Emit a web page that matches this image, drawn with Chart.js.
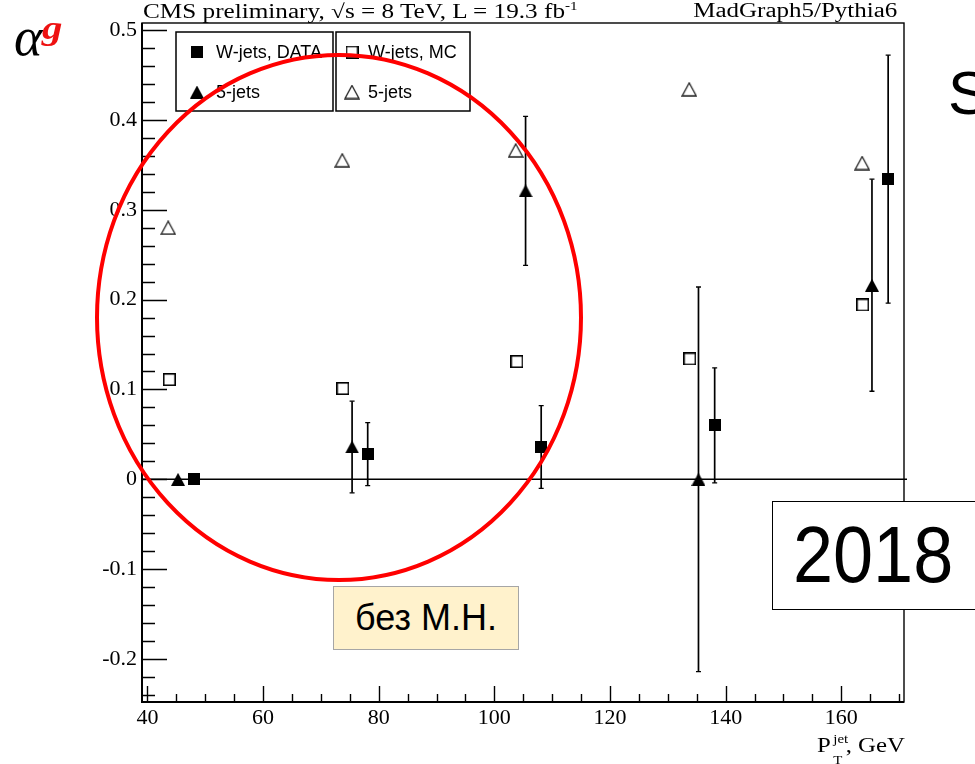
<!DOCTYPE html>
<html>
<head>
<meta charset="utf-8">
<script src="https://cdn.jsdelivr.net/npm/chart.js@4/dist/chart.umd.min.js"></script>
<style>
  html, body { margin: 0; padding: 0; background: #fff; }
  #wrap { position: relative; width: 975px; height: 764px; overflow: hidden; background: #fff; }
  #plot { position: absolute; left: 0; top: 0; }
  .txt { position: absolute; white-space: nowrap; color: #000; }
  .serif { font-family: "Liberation Serif", "Times New Roman", serif; }
  .sans { font-family: "Liberation Sans", Arial, sans-serif; }
</style>
</head>
<body>
<div id="wrap">
  <canvas id="plot" width="975" height="764"></canvas>

  <div class="txt serif" style="left:143px; top:-1px; font-size:20px; transform:scaleX(1.26); transform-origin:left top;">CMS preliminary, √s = 8 TeV, L = 19.3 fb<sup style="font-size:12px;">-1</sup></div>
  <div class="txt serif" style="right:78px; top:-1px; font-size:20px; transform:scaleX(1.25); transform-origin:right top;">MadGraph5/Pythia6</div>

  <div class="txt serif" style="left:14px; top:6px; font-size:54px; font-style:italic;">α</div>
  <div class="txt serif" style="left:42px; top:9px; font-size:34px; font-style:italic; font-weight:bold; color:#ee1111; transform:scaleX(1.2); transform-origin:left top;">g</div>

  <div class="txt serif" style="right:70px; top:734px; font-size:20px; transform:scaleX(1.24); transform-origin:right top;">P<span style="position:relative; font-size:12px;"><span style="position:absolute; left:2px; top:-9px;">jet</span><span style="position:absolute; left:2px; top:12px;">T</span><span style="visibility:hidden;">jet</span></span>, GeV</div>

  <div class="txt sans" style="left:948px; top:58px; font-size:61px;">S</div>

  <div style="position:absolute; left:772px; top:501px; width:220px; height:107px; border:1.5px solid #000; background:#fff;"></div>
  <div class="txt sans" style="left:793px; top:509px; font-size:80px; transform:scaleX(0.9); transform-origin:left top;">2018</div>

  <div style="position:absolute; left:333px; top:586px; width:184px; height:62px; border:1.5px solid #a6a6a6; background:#fff2cc;"></div>
  <div class="txt sans" style="left:333px; top:586px; width:186px; line-height:64px; text-align:center; font-size:36px;">без М.Н.</div>
</div>

<script>
// Jet pT bins (GeV) and the g-coefficient for each sample
const wDataX   = [48.1, 78.1, 108.1, 138.1, 168.1];
const wDataY   = [0.000, 0.028, 0.036, 0.060, 0.334];
const wDataErr = [0.000, 0.035, 0.046, 0.064, 0.138];

const fiveDataX   = [45.3, 75.4, 105.4, 135.3, 165.3];
const fiveDataY   = [0.000, 0.036, 0.321, 0.000, 0.216];
const fiveDataErr = [0.000, 0.051, 0.083, 0.214, 0.118];

const wMcX = [43.8, 73.8, 103.9, 133.8, 163.7];
const wMcY = [0.111, 0.101, 0.131, 0.134, 0.194];

const fiveMcX = [43.6, 73.7, 103.7, 133.7, 163.6];
const fiveMcY = [0.280, 0.355, 0.366, 0.434, 0.352];

// Axis ticks
const xTickValues = [40, 60, 80, 100, 120, 140, 160];
const yTickValues = [-0.2, -0.1, 0, 0.1, 0.2, 0.3, 0.4, 0.5];
const xMinorStep = 5;
const yMinorStep = 0.02;

const legendLabels = ['W-jets, DATA', '5-jets', 'W-jets, MC', '5-jets'];

// ---- marker glyphs ----
function marker(kind) {
  const c = document.createElement('canvas');
  const g = c.getContext('2d');
  if (kind === 'sqFill') {
    c.width = 12; c.height = 12;
    g.fillStyle = '#000'; g.fillRect(0, 0, 12, 12);
  } else if (kind === 'sqOpen') {
    c.width = 13; c.height = 13;
    g.strokeStyle = '#000'; g.lineWidth = 1.6;
    g.strokeRect(0.8, 0.8, 11.4, 11.4);
  } else if (kind === 'triFill') {
    c.width = 14; c.height = 13;
    g.fillStyle = '#000';
    g.beginPath(); g.moveTo(7, 0); g.lineTo(14, 13); g.lineTo(0, 13); g.closePath(); g.fill();
  } else {
    c.width = 16; c.height = 15;
    g.strokeStyle = '#222'; g.lineWidth = 1.3;
    g.beginPath(); g.moveTo(8, 1); g.lineTo(15, 14); g.lineTo(1, 14); g.closePath(); g.stroke();
  }
  return c;
}
const mk = {
  sqFill: marker('sqFill'), sqOpen: marker('sqOpen'),
  triFill: marker('triFill'), triOpen: marker('triOpen')
};

const pts = (xs, ys) => xs.map((x, i) => ({ x: x, y: ys[i] }));

// ---- frame, ticks, zero line, error bars ----
const framePlugin = {
  id: 'rootFrame',
  beforeDatasetsDraw(chart) {
    const { ctx, chartArea: a, scales: { x, y } } = chart;
    ctx.save();
    ctx.strokeStyle = '#000';

    // zero line
    ctx.lineWidth = 1.5;
    const y0 = y.getPixelForValue(0);
    ctx.beginPath(); ctx.moveTo(a.left, y0); ctx.lineTo(a.right + 3, y0); ctx.stroke();

    // error bars
    const bars = [[wDataX, wDataY, wDataErr], [fiveDataX, fiveDataY, fiveDataErr]];
    bars.forEach(([xs, ys, es]) => {
      xs.forEach((xv, i) => {
        if (!es[i]) return;
        const px = x.getPixelForValue(xv);
        const pTop = y.getPixelForValue(ys[i] + es[i]);
        const pBot = y.getPixelForValue(ys[i] - es[i]);
        ctx.lineWidth = 1.7;
        ctx.beginPath(); ctx.moveTo(px, pTop); ctx.lineTo(px, pBot); ctx.stroke();
        ctx.lineWidth = 1.3;
        ctx.beginPath();
        ctx.moveTo(px - 2.5, pTop); ctx.lineTo(px + 2.5, pTop);
        ctx.moveTo(px - 2.5, pBot); ctx.lineTo(px + 2.5, pBot);
        ctx.stroke();
      });
    });
    ctx.restore();
  },
  afterDraw(chart) {
    const { ctx, chartArea: a, scales: { x, y } } = chart;
    ctx.save();
    ctx.strokeStyle = '#000';

    // frame
    ctx.lineWidth = 1.4;
    ctx.strokeRect(a.left, a.top, a.right - a.left, a.bottom - a.top);
    ctx.lineWidth = 2;
    ctx.beginPath();
    ctx.moveTo(a.left, a.top); ctx.lineTo(a.left, a.bottom); ctx.lineTo(a.right, a.bottom);
    ctx.stroke();

    // y ticks (inward): major every 0.1, minor every 0.02
    ctx.lineWidth = 1.4;
    ctx.beginPath();
    const yStart = Math.ceil(y.min / yMinorStep - 1e-6);
    const yEnd = Math.floor(y.max / yMinorStep + 1e-6);
    for (let k = yStart; k <= yEnd; k++) {
      const v = k * yMinorStep;
      const major = yTickValues.some(t => Math.abs(t - v) < 1e-6);
      const py = Math.round(y.getPixelForValue(v)) + 0.5;
      ctx.moveTo(a.left, py); ctx.lineTo(a.left + (major ? 25 : 13), py);
    }
    // x ticks (inward): major every 20, minor every 5
    const xStart = Math.ceil(x.min / xMinorStep - 1e-6);
    const xEnd = Math.floor(x.max / xMinorStep + 1e-6);
    for (let k = xStart; k <= xEnd; k++) {
      const v = k * xMinorStep;
      const major = xTickValues.includes(v);
      const px = Math.round(x.getPixelForValue(v)) + 0.5;
      ctx.moveTo(px, a.bottom); ctx.lineTo(px, a.bottom - (major ? 16 : 8));
    }
    ctx.stroke();

    // legend
    ctx.fillStyle = '#fff';
    ctx.lineWidth = 1.5;
    [[176, 32, 157, 79], [336, 32, 134, 79]].forEach(([lx, ly, lw, lh]) => {
      ctx.fillRect(lx, ly, lw, lh);
      ctx.strokeRect(lx, ly, lw, lh);
    });
    const items = [
      [mk.sqFill, 197, 52, 216], [mk.triFill, 197, 92, 216],
      [mk.sqOpen, 352, 52, 368], [mk.triOpen, 352, 92, 368]
    ];
    ctx.fillStyle = '#000';
    ctx.font = '18px "Liberation Sans", Arial, sans-serif';
    ctx.textBaseline = 'middle';
    ctx.textAlign = 'left';
    items.forEach(([img, mx, my, tx], i) => {
      ctx.drawImage(img, mx - img.width / 2, my - img.height / 2);
      ctx.fillText(legendLabels[i], tx, my + 1);
    });

    // highlight ellipse
    ctx.strokeStyle = '#ff0000';
    ctx.lineWidth = 4;
    ctx.beginPath();
    ctx.ellipse(339, 317.5, 242, 262.5, 0, 0, Math.PI * 2);
    ctx.stroke();
    ctx.restore();
  }
};

new Chart(document.getElementById('plot'), {
  type: 'scatter',
  data: {
    datasets: [
      { label: 'W-jets, MC', data: pts(wMcX, wMcY), pointStyle: mk.sqOpen },
      { label: '5-jets MC', data: pts(fiveMcX, fiveMcY), pointStyle: mk.triOpen },
      { label: '5-jets', data: pts(fiveDataX, fiveDataY), pointStyle: mk.triFill },
      { label: 'W-jets, DATA', data: pts(wDataX, wDataY), pointStyle: mk.sqFill }
    ]
  },
  options: {
    responsive: false,
    animation: false,
    events: [],
    layout: { padding: { left: 0, top: 23, right: 71, bottom: 0 } },
    plugins: { legend: { display: false }, tooltip: { enabled: false } },
    scales: {
      x: {
        type: 'linear',
        min: 39.07, max: 170.84,
        afterBuildTicks: s => { s.ticks = xTickValues.map(v => ({ value: v })); },
        afterFit: s => { s.height = 62; },
        grid: { display: false, drawTicks: false },
        border: { display: false },
        ticks: {
          color: '#000', padding: 3, maxRotation: 0, autoSkip: false,
          font: { family: '"Liberation Serif", "Times New Roman", serif', size: 22 },
          callback: v => String(v)
        }
      },
      y: {
        type: 'linear',
        min: -0.2478, max: 0.5078,
        afterBuildTicks: s => { s.ticks = yTickValues.map(v => ({ value: v })); },
        afterFit: s => { s.width = 142; },
        grid: { display: false, drawTicks: false },
        border: { display: false },
        ticks: {
          color: '#000', padding: 5, autoSkip: false,
          font: { family: '"Liberation Serif", "Times New Roman", serif', size: 22 },
          callback: v => (Math.abs(v) < 1e-9 ? '0' : String(Math.round(v * 10) / 10))
        }
      }
    }
  },
  plugins: [framePlugin]
});
</script>
</body>
</html>
